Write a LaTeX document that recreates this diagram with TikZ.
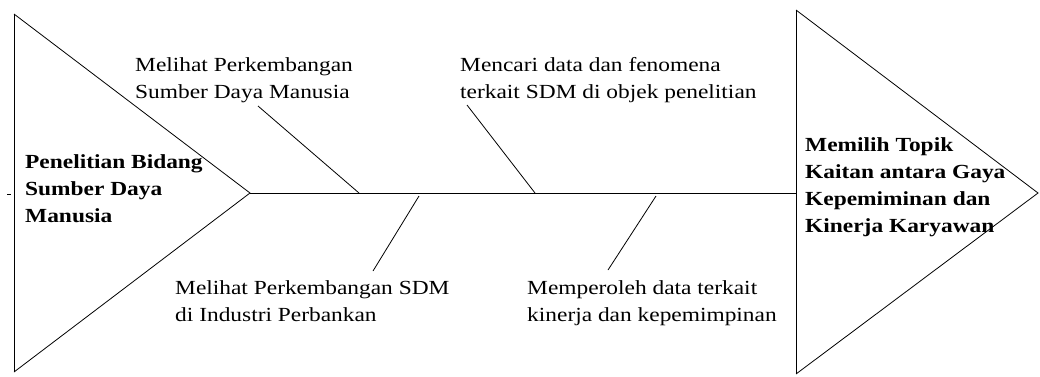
\documentclass[tikz,border=0pt]{standalone}
\usepackage{fontspec}
\setmainfont{Liberation Serif}[FakeStretch=1.17]
\begin{document}
\begin{tikzpicture}[x=1pt,y=-1pt,
  line/.style={draw=black,line width=0.8pt},
  lbl/.style={anchor=base west,inner sep=0pt,align=left,font=\fontsize{20}{26.5}\selectfont},
  head/.style={lbl,font=\fontsize{20}{26.8}\selectfont\bfseries}]
\useasboundingbox (0,0) rectangle (1040,376);
% left (cause) triangle
\coordinate (lt) at (14,14);
\coordinate (lb) at (14,372);
\coordinate (la) at (250,193);
\draw[line] (lt) -- (lb);
\draw[line] (lt) -- (la) -- (lb);
\coordinate (tk1) at (7,194);
\coordinate (tk2) at (11,194);
\draw[line] (tk1) -- (tk2);
% right (effect) triangle
\coordinate (rt) at (796,10);
\coordinate (rb) at (796,374);
\coordinate (ra) at (1038,193);
\draw[line] (rt) -- (rb);
\draw[line] (rt) -- (ra) -- (rb);
% spine
\coordinate (sr) at (796,193);
\draw[line] (la) -- (sr);
% bones
\coordinate (b1s) at (258,106); \coordinate (b1e) at (359,193);
\coordinate (b2s) at (467,105); \coordinate (b2e) at (535,193);
\coordinate (b3s) at (373,271); \coordinate (b3e) at (419,196);
\coordinate (b4s) at (608,270); \coordinate (b4e) at (656,196);
\draw[line] (b1s) -- (b1e);
\draw[line] (b2s) -- (b2e);
\draw[line] (b3s) -- (b3e);
\draw[line] (b4s) -- (b4e);
% labels (anchored at the baseline of the last line)
\node[head] (cause) at (25,222) {Penelitian Bidang\\Sumber Daya\\Manusia};
\node[head] (effect) at (805,232) {Memilih Topik\\Kaitan antara Gaya\\Kepemiminan dan\\Kinerja Karyawan};
\node[lbl] (t1) at (135,98) {Melihat Perkembangan\\Sumber Daya Manusia};
\node[lbl] (t2) at (460,98) {Mencari data dan fenomena\\terkait SDM di objek penelitian};
\node[lbl] (t3) at (175,321) {Melihat Perkembangan SDM\\di Industri Perbankan};
\node[lbl] (t4) at (527,321) {Memperoleh data terkait\\kinerja dan kepemimpinan};
\end{tikzpicture}
\end{document}
